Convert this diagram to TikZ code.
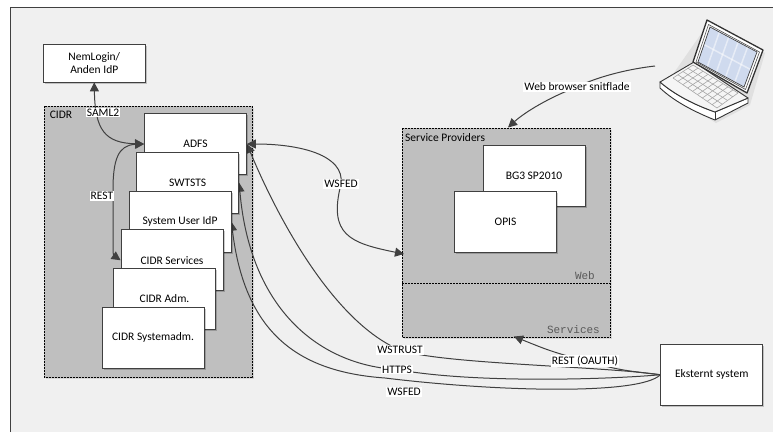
\documentclass[tikz,border=0pt]{standalone}
\usepackage{fontspec}
\setmainfont{Carlito}
\setmonofont{Liberation Mono}
\usetikzlibrary{arrows.meta,positioning,shadows,calc}
\pgfdeclarelayer{myback}
\pgfdeclarelayer{background}
\pgfsetlayers{myback,background,main}
\definecolor{bgpanel}{HTML}{F0F0F0}
\definecolor{zone}{HTML}{BFBFBF}
\definecolor{edgecol}{HTML}{404040}
\definecolor{screencol}{HTML}{CFDAEE}
\tikzset{
  sysbox/.style = { draw=edgecol, fill=white, line width=0.8pt, minimum width=102pt, minimum height=61pt,
    inner sep=0pt, font=\fontsize{11.5}{13.5}\selectfont, align=center,
    drop shadow={shadow xshift=1.5pt,shadow yshift=-1.5pt,opacity=0.2,fill=black} },
  zonebox/.style = { draw=black, fill=zone, line width=0.8pt, dash pattern=on 2pt off 1pt },
  lbl/.style = { fill=white, inner sep=1pt, font=\fontsize{11.5}{13}\selectfont },
  txt/.style = { inner sep=0pt, font=\fontsize{11.5}{13}\selectfont },
  monotxt/.style = { inner sep=0pt, text=black!65, font=\ttfamily\fontsize{11}{12}\selectfont },
  conn/.style = { draw=edgecol, line width=1pt, -{Triangle[length=9pt,width=9pt]} },
  conn2/.style = { draw=edgecol, line width=1pt, {Triangle[length=9pt,width=9pt]}-{Triangle[length=9pt,width=9pt]} },
  lapline/.style = { draw=black!80, line width=0.9pt, line join=round }
}
\begin{document}
\begin{tikzpicture}[x=1pt,y=-1pt,on grid]
  \useasboundingbox (0,0) rectangle (773,432);
  \begin{pgfonlayer}{myback}
    \fill[bgpanel] (10,8) rectangle (773,432);
    \draw[edgecol, line width=1pt] (10,432) -- (10,7.5) -- (773,7.5);
    % grey zones
    \draw[zonebox, drop shadow={shadow xshift=1.5pt,shadow yshift=-1.5pt,opacity=0.1,fill=black}] (44,106) rectangle (252.5,377.5);
    \draw[zonebox, drop shadow={shadow xshift=1.5pt,shadow yshift=-1.5pt,opacity=0.1,fill=black}] (402,128) rectangle (610.5,337.5);
    \draw[zonebox] (402,283.3) -- (610.5,283.3);
  \end{pgfonlayer}

  % CIDR stack
  \node[sysbox] (nem) at (94.25,63) [minimum height=38pt] {NemLogin/\\Anden IdP};
  \node[sysbox] (adfs) at (195.5,144) {ADFS};
  \node[sysbox, below left=38.75pt and 7.75pt of adfs] (swtsts) {SWTSTS};
  \node[sysbox, below left=39pt and 7.75pt of swtsts] (sysidp) {System User IdP};
  \node[sysbox, below left=38.5pt and 8pt of sysidp] (svc) {CIDR Services};
  \node[sysbox, below left=38.25pt and 7.5pt of svc] (adm) {CIDR Adm.};
  \node[sysbox, below left=39pt and 11.5pt of adm] (sysadm) {CIDR Systemadm.};

  % service providers
  \node[sysbox] (bg3) at (534,175.75) {BG3 SP2010};
  \node[sysbox, below left=45.75pt and 28.5pt of bg3] (opis) {OPIS};
  \node[sysbox] (ext) at (711.75,374.75) {Eksternt system};

  % zone texts
  \node[txt] (cidrtxt) at (61,114.5) {CIDR};
  \node[txt, anchor=west] (sptxt) at (405,137.5) {Service Providers};
  \node[monotxt, anchor=east] (webtxt) at (595,276) {Web};
  \node[monotxt, anchor=east] (svctxt) at (600,330) {Services};

  % labels
  \node[lbl] (lsaml) at (103,112.5) {SAML2};
  \node[lbl] (lrest) at (102,196) {REST};
  \node[lbl] (lwsfed) at (341,184) {WSFED};
  \node[lbl] (lweb) at (577,87) {Web browser snitflade};
  \node[lbl] (lwstrust) at (400,350) {WSTRUST};
  \node[lbl] (lhttps) at (397,369.5) {HTTPS};
  \node[lbl] (lwsfed2) at (404,392) {WSFED};
  \node[lbl] (loauth) at (585,361) {REST (OAUTH)};

  \coordinate (lapout) at (655,66);
  \coordinate (spin) at (508,127.5);
  \coordinate (spwest) at (404,254);
  \coordinate (spsouth) at (514,336.5);
  \coordinate (wsfmid) at (385,378);

  \begin{pgfonlayer}{background}
    \draw[conn2] (nem.south) .. controls (95,130) and (105,143) .. (adfs.west);
    \draw[conn2] (adfs.west) .. controls (118,145) and (113,160) .. (113,190) .. controls (113,230) and (113,255) .. (svc.west);
    \draw[conn2] (adfs.east) .. controls (300,144) and (345,155) .. (lwsfed.center) .. controls (328,235) and (350,243) .. (spwest);
    \draw[conn] (lapout) .. controls (620,70) and (590,80) .. (lweb.center) .. controls (550,97) and (525,112) .. (spin);
    \draw[conn] (ext.west) .. controls (600,366) and (440,364) .. (lwstrust.center) .. controls (340,325) and (285,235) .. (adfs.east);
    \draw[conn] (ext.west) .. controls (600,380) and (470,383) .. (lhttps.center) .. controls (320,365) and (250,310) .. (swtsts.east);
    \draw[conn] (ext.west) .. controls (640,395) and (500,392) .. (wsfmid) .. controls (300,372) and (245,335) .. (sysidp.east);
    \draw[conn] (ext.west) .. controls (620,370) .. (loauth.center) .. controls (550,351) .. (spsouth);
  \end{pgfonlayer}

  % laptop
  \fill[black!12] (662,90) -- (716,123) -- (750,105) -- (765,53) -- (710,21) -- cycle;
  \draw[lapline, fill=white] (660,82) -- (660,88) .. controls (675,102) and (695,112) .. (715,120) -- (748,103) -- (748,98) -- (715,112) .. controls (695,105) and (675,95) .. cycle;
  \draw[lapline] (715,112) -- (715,120);
  \draw[lapline, fill=white!96!black] (660,82) -- (694,62) -- (748,98) -- (715,112) .. controls (695,105) and (675,95) .. cycle;
  \draw[lapline, fill=white, line width=1.3pt] (693,62) -- (707,20) -- (763,50) -- (747,93) -- cycle;
  \draw[black!70, line width=0.6pt] (696,62) -- (708.5,24.5) -- (759.5,52) -- (745.5,89.5) -- cycle;
  \fill[screencol] (710,27) -- (757,52) -- (744,87) -- (698,62) -- cycle;
  \foreach \i in {1,...,4} {
    \draw[white, opacity=0.5, line width=1.5pt] ($(710,27)!\i/5!(757,52)$) -- ($(698,62)!\i/5!(744,87)$);
  }
  \draw[white, opacity=0.5, line width=1.5pt] ($(710,27)!0.5!(698,62)$) -- ($(757,52)!0.5!(744,87)$);
  \draw[black!75, line width=0.7pt] (710,27) -- (757,52) -- (744,87) -- (698,62) -- cycle;
  % keys
  \foreach \i in {0,...,9} {
    \draw[black!35, line width=0.6pt] ($(693,65)!\i/9!(738,93)$) -- ($(673,78)!\i/9!(717,108)$);
  }
  \foreach \i in {0,...,4} {
    \draw[black!35, line width=0.6pt] ($(693,65)!\i/4!(673,78)$) -- ($(738,93)!\i/4!(717,108)$);
  }
\end{tikzpicture}
\end{document}
